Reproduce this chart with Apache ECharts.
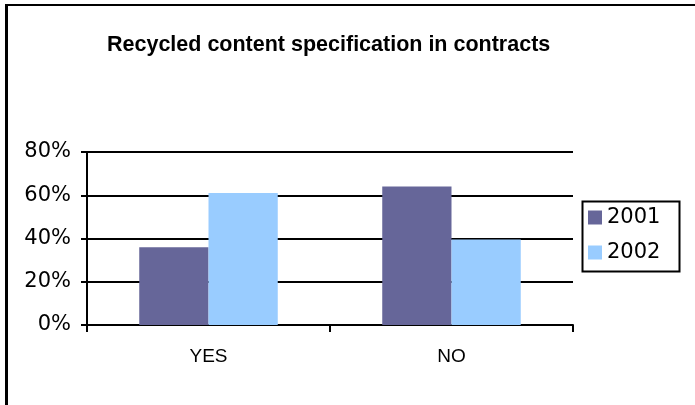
<!DOCTYPE html>
<html>
<head>
<meta charset="utf-8">
<script src="https://cdn.jsdelivr.net/npm/echarts@6/dist/echarts.min.js"></script>
<style>
html,body{margin:0;padding:0;background:#fff;}
#frame{position:absolute;left:0;top:0;width:695px;height:405px;}
#bt{position:absolute;left:5px;top:4px;width:690px;height:2px;background:#000;}
#bl{position:absolute;left:5px;top:4px;width:3px;height:401px;background:#000;}
#chart{position:absolute;left:0;top:0;width:695px;height:405px;}
</style>
</head>
<body>
<div id="frame">
<div id="chart"></div>
<div id="bt"></div>
<div id="bl"></div>
</div>
<script>
const titleText = 'Recycled content specification in contracts';
const categories = ['YES', 'NO'];
const seriesNames = ['2001', '2002'];
const values2001 = [0.36, 0.64];
const values2002 = [0.61, 0.395];
const yTicks = [0, 0.2, 0.4, 0.6, 0.8];

const colors = ['#666699', '#99CCFF'];
const chart = echarts.init(document.getElementById('chart'), null, {renderer: 'canvas'});
chart.setOption({
  animation: false,
  title: {
    text: titleText,
    left: 102, top: 29,
    textStyle: {fontFamily: '"Liberation Sans", Arial, sans-serif', fontSize: 21.5, fontWeight: 'bold', color: '#000'}
  },
  graphic: [{
    type: 'rect', left: 580, top: 199, z: 100,
    shape: {width: 97, height: 70},
    style: {fill: 'none', stroke: '#000', lineWidth: 2}
  }],
  legend: {
    orient: 'vertical',
    left: 582, top: 201,
    padding: [6, 4, 4, 6],
    borderWidth: 0,
    itemWidth: 14, itemHeight: 14, itemGap: 14,
    icon: 'rect',
    textStyle: {fontFamily: '"DejaVu Sans", Verdana, sans-serif', fontSize: 21, lineHeight: 21, color: '#000'},
    data: seriesNames
  },
  grid: {left: 87, right: 122, top: 152, bottom: 80},
  xAxis: {
    type: 'category',
    data: categories,
    axisLine: {lineStyle: {color: '#000', width: 2}},
    axisTick: {show: true, length: 7, inside: false, lineStyle: {color: '#000', width: 2}},
    axisLabel: {margin: 22, fontFamily: '"Liberation Sans", Arial, sans-serif', fontSize: 19, color: '#000'}
  },
  yAxis: {
    type: 'value',
    min: yTicks[0], max: yTicks[yTicks.length - 1], interval: 0.2,
    axisLine: {show: true, lineStyle: {color: '#000', width: 2}},
    axisTick: {show: true, length: 6, lineStyle: {color: '#000', width: 2}},
    splitLine: {show: true, lineStyle: {color: '#000', width: 2}},
    axisLabel: {margin: 16, fontFamily: '"DejaVu Sans", Verdana, sans-serif', fontSize: 21, color: '#000',
      formatter: v => Math.round(v * 100) + '%'}
  },
  series: [
    {name: seriesNames[0], type: 'bar', data: values2001, barGap: '0%', barCategoryGap: '43%', itemStyle: {color: colors[0]}},
    {name: seriesNames[1], type: 'bar', data: values2002, barGap: '0%', barCategoryGap: '43%', itemStyle: {color: colors[1]}}
  ]
});
</script>
</body>
</html>
